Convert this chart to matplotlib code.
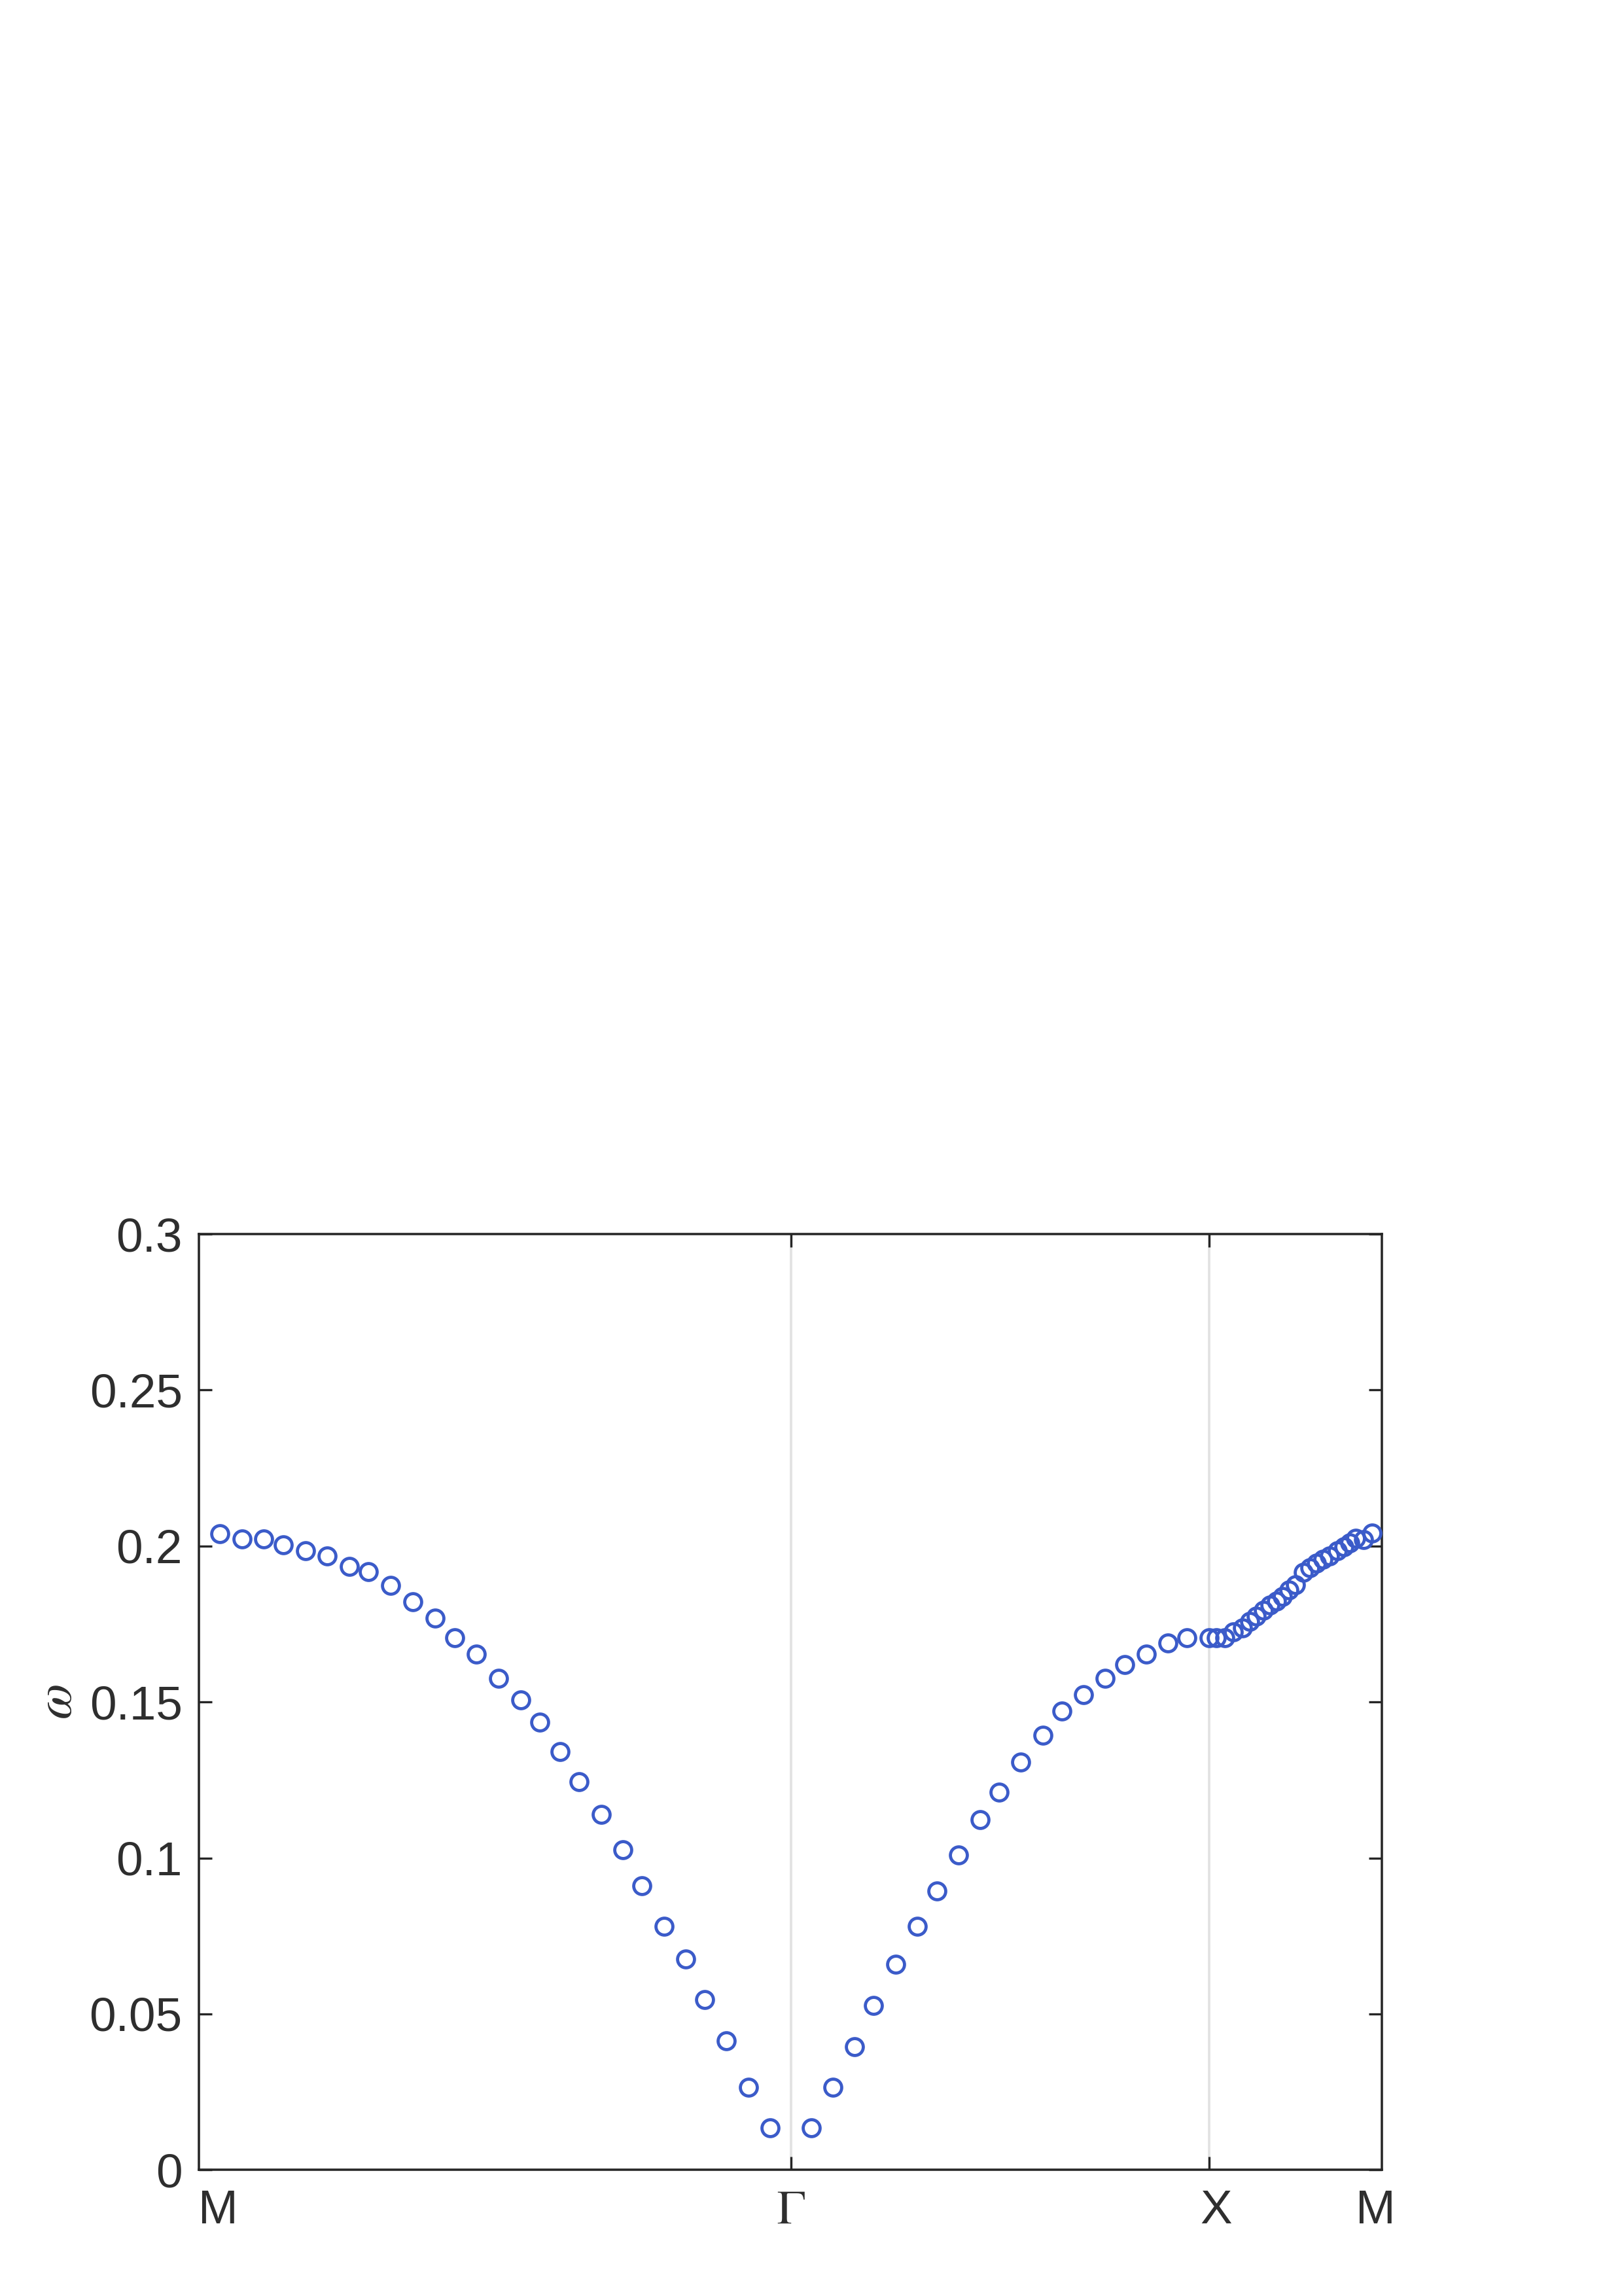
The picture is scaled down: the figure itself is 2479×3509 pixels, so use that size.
import numpy as np
import matplotlib
matplotlib.use('Agg')
import matplotlib.pyplot as plt
import matplotlib.transforms as mtransforms

plt.rcParams['font.family'] = ['Liberation Sans', 'DejaVu Sans']
plt.rcParams['mathtext.fontset'] = 'stix'

# k-path coordinate (arbitrary units along M-Gamma-X-M) and frequency omega
k_mg = [1.01, 2.07, 3.10, 4.03, 5.07, 6.11, 7.16, 8.07, 9.13, 10.17, 11.23, 12.15,
        13.19, 14.25, 15.29, 16.20, 17.17, 18.08, 19.12, 20.15, 21.06, 22.10, 23.14,
        24.04, 25.07, 26.11, 27.14]
w_mg = [0.2040, 0.2022, 0.2022, 0.2004, 0.1986, 0.1969, 0.1935, 0.1917, 0.1873,
        0.1821, 0.1768, 0.1707, 0.1654, 0.1576, 0.1506, 0.1436, 0.1341, 0.1245,
        0.1139, 0.1026, 0.0912, 0.0781, 0.0677, 0.0546, 0.0415, 0.0265, 0.0135]

k_gx = [29.09, 30.13, 31.16, 32.06, 33.10, 34.14, 35.05, 36.08, 37.12, 38.02, 39.05,
        40.09, 40.99, 42.03, 43.06, 43.98, 45.01, 46.05, 46.95, 47.98]
w_gx = [0.0135, 0.0265, 0.0396, 0.0528, 0.0659, 0.0781, 0.0895, 0.1009, 0.1122,
        0.1210, 0.1307, 0.1394, 0.1471, 0.1524, 0.1576, 0.1619, 0.1654, 0.1689,
        0.1707, 0.1707]

k_xm = [48.34, 48.74, 49.15, 49.58, 49.92, 50.23, 50.57, 50.88, 51.19, 51.47, 51.78,
        52.09, 52.47, 52.78, 53.09, 53.40, 53.71, 54.09, 54.40, 54.68, 54.96, 55.33,
        55.73]
w_xm = [0.1707, 0.1706, 0.1725, 0.1738, 0.1759, 0.1775, 0.1794, 0.1811, 0.1824,
        0.1838, 0.1859, 0.1876, 0.1916, 0.1930, 0.1945, 0.1958, 0.1968, 0.1985,
        0.1998, 0.2010, 0.2025, 0.2021, 0.2042]

sym_pos = [0.92, 28.12, 47.99, 55.9]
sym_labels = ['M', r'$\Gamma$', 'X', 'M']
yticks = [0, 0.05, 0.1, 0.15, 0.2, 0.25, 0.3]
ytick_labels = ['0', '0.05', '0.1', '0.15', '0.2', '0.25', '0.3']

dark = '#262626'
blue = '#3b5bc9'

fig = plt.figure(figsize=(2479 / 300, 3509 / 300), dpi=300)
ax = fig.add_axes([0.1225, 0.0549, 0.7295, 0.4076])

# vertical lines at the high-symmetry points
for xv in sym_pos[1:3]:
    ax.axvline(xv, color='#e2e2e2', lw=0.9, zorder=1)

k = k_mg + k_gx + k_xm
w = w_mg + w_gx + w_xm
ax.plot(k, w, 'o', ms=6.2, mfc='none', mec=blue, mew=1.15, ls='none', zorder=3,
        clip_on=False)

ax.set_xlim(0, 56.2)
ax.set_ylim(0, 0.3)
ax.set_yticks(yticks)
ax.set_yticklabels(ytick_labels)
ax.set_xticks(sym_pos)
ax.set_xticklabels(sym_labels)

ax.tick_params(direction='in', length=4.8, width=0.8, color=dark, labelcolor='#2e2e2e',
               labelsize=17.5, top=True, right=True)
ax.tick_params(axis='y', pad=6)
ax.tick_params(axis='x', pad=7)
xt = ax.xaxis.get_major_ticks()
for i in (0, 3):
    xt[i].tick1line.set_visible(False)
    xt[i].tick2line.set_visible(False)
# X label sits a bit right of its tick in the original
lab = xt[2].label1
lab.set_transform(lab.get_transform() +
                  mtransforms.ScaledTranslation(0.035, 0, fig.dpi_scale_trans))

for sp in ax.spines.values():
    sp.set_color(dark)
    sp.set_linewidth(0.85)

ax.set_ylabel(r'$\omega$', fontsize=19, color='#2e2e2e')
ax.yaxis.set_label_coords(-0.098, 0.5)

fig.savefig('out.png', dpi=300, facecolor='white')
